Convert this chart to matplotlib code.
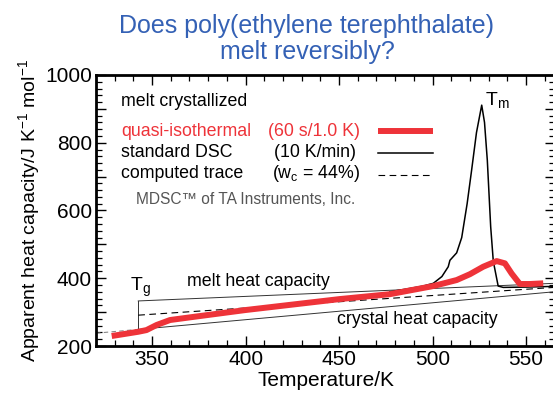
import matplotlib
matplotlib.use("Agg")
import matplotlib.pyplot as plt
from matplotlib.ticker import MultipleLocator, FuncFormatter

plt.rcParams['font.family'] = ['Liberation Sans', 'DejaVu Sans']
plt.rcParams['mathtext.fontset'] = 'custom'
plt.rcParams['mathtext.rm'] = 'Liberation Sans'
plt.rcParams['mathtext.it'] = 'Liberation Sans'

# quasi-isothermal TMDSC (60 s / 1.0 K)
qi_T = [328.4, 342.6, 347.0, 352.4, 359.6, 370.3, 399.7, 450.5, 477.2, 500.4,
        512.9, 520.0, 527.1, 534.3, 538.7, 542.3, 546.7, 552.0, 559.2]
qi_cp = [229.5, 242, 247, 262, 276.7, 284.6, 306, 338.6, 353, 377,
         394.7, 412, 434, 450.7, 444, 414, 383, 383, 385]

# standard DSC at 10 K/min
dsc_T = [477.2, 487.9, 495.0, 500.4, 505.0, 508.4, 509.3, 512.9, 515.6, 518.5,
         520.9, 523.5, 526.3, 527.8, 529.3, 531.1, 532.5, 535.1, 537.8, 550.0, 565.0]
dsc_cp = [360, 370, 377, 385, 405, 434, 453, 475, 520, 620,
          719, 830, 911, 860, 748, 552, 450, 377, 373, 374, 376]

# computed trace, w_c = 44 %
calc_T = [342.6, 565.0]
calc_cp = [291, 373]

# melt and crystal heat capacity baselines
melt_T = [342.6, 565.0]
melt_cp = [333, 385]
cryst_T = [342.6, 565.0]
cryst_cp = [249, 360]
glass_T = [320.0, 342.6]
glass_cp = [237.7, 249]
Tg = 342.6

red = '#ee3339'

fig = plt.figure(figsize=(5.53, 3.97), dpi=100)
ax = fig.add_axes([96 / 553, 51 / 397, 459 / 553, 271 / 397])

ax.plot(glass_T, glass_cp, color='#888888', lw=0.8, ls=(0, (4, 3)))
ax.plot(melt_T, melt_cp, color='#333333', lw=0.7)
ax.plot(cryst_T, cryst_cp, color='#333333', lw=0.7)
ax.plot([Tg, Tg], [cryst_cp[0], melt_cp[0]], color='#333333', lw=0.7)
ax.plot(calc_T, calc_cp, color='black', lw=0.8, ls=(0, (6, 4)))
ax.plot(dsc_T, dsc_cp, color='black', lw=1.1)
ax.plot(qi_T, qi_cp, color=red, lw=4.3, solid_capstyle='butt')

ax.set_xlim(320, 565.5)
ax.set_ylim(200, 1000)
ax.xaxis.set_major_locator(MultipleLocator(50))
ax.xaxis.set_minor_locator(MultipleLocator(10))
ax.yaxis.set_major_locator(MultipleLocator(100))
ax.yaxis.set_minor_locator(MultipleLocator(20))
ax.yaxis.set_major_formatter(FuncFormatter(lambda v, p: f'{v:.0f}' if v % 200 == 0 else ''))
ax.tick_params(which='both', direction='in', top=True, right=True, labelsize=15, pad=3)
ax.tick_params(which='major', length=7, width=1)
ax.tick_params(which='minor', length=4, width=0.9)
for s in ax.spines.values():
    s.set_linewidth(2)

ax.set_xlabel('Temperature/K', fontsize=15, labelpad=1)
ax.set_ylabel('Apparent heat capacity/J K$^{-1}$ mol$^{-1}$', fontsize=14, labelpad=2)

fig.text(0.555, 0.965, 'Does poly(ethylene terephthalate)\nmelt reversibly?',
         ha='center', va='top', fontsize=18, color='#3461b5', linespacing=1.12)

# legend block
def ypos(py):
    return (346 - py) / 271
def xpos(px):
    return (px - 96) / 459

fs = 12.8
tx = xpos(121)
ax.text(tx, ypos(101), 'melt crystallized', transform=ax.transAxes, fontsize=fs, va='center')
ax.text(tx, ypos(131.5), 'quasi-isothermal', transform=ax.transAxes, fontsize=fs, va='center', color=red)
ax.text(xpos(360), ypos(131.5), '(60 s/1.0 K)', transform=ax.transAxes, fontsize=fs, va='center',
        ha='right', color=red)
ax.text(tx, ypos(153), 'standard DSC', transform=ax.transAxes, fontsize=fs, va='center')
ax.text(xpos(356), ypos(153), '(10 K/min)', transform=ax.transAxes, fontsize=fs, va='center', ha='right')
ax.text(tx, ypos(174), 'computed trace', transform=ax.transAxes, fontsize=fs, va='center')
ax.text(xpos(360), ypos(174), '(w$_{\\mathrm{c}}$ = 44%)', transform=ax.transAxes, fontsize=fs,
        va='center', ha='right')
ax.text(xpos(136), ypos(200), 'MDSC™ of TA Instruments, Inc.', transform=ax.transAxes, fontsize=11.2,
        va='center', color='#555555')

ax.plot([xpos(378), xpos(433)], [ypos(131.5)] * 2, transform=ax.transAxes, color=red, lw=4.3, solid_capstyle='butt')
ax.plot([xpos(378), xpos(433)], [ypos(153)] * 2, transform=ax.transAxes, color='black', lw=1.1)
ax.plot([xpos(378), xpos(433)], [ypos(175)] * 2, transform=ax.transAxes, color='black', lw=0.8, ls=(0, (6, 4)))

ax.text(xpos(485), ypos(100), 'T$_{\\mathrm{m}}$', transform=ax.transAxes, fontsize=14, va='center')
ax.text(xpos(130), ypos(287), 'T$_{\\mathrm{g}}$', transform=ax.transAxes, fontsize=14, va='center')
ax.text(xpos(187), ypos(282), 'melt heat capacity', transform=ax.transAxes, fontsize=fs, va='center')
ax.text(xpos(337), ypos(319), 'crystal heat capacity', transform=ax.transAxes, fontsize=fs, va='center')

fig.savefig('out.png', dpi=100)
